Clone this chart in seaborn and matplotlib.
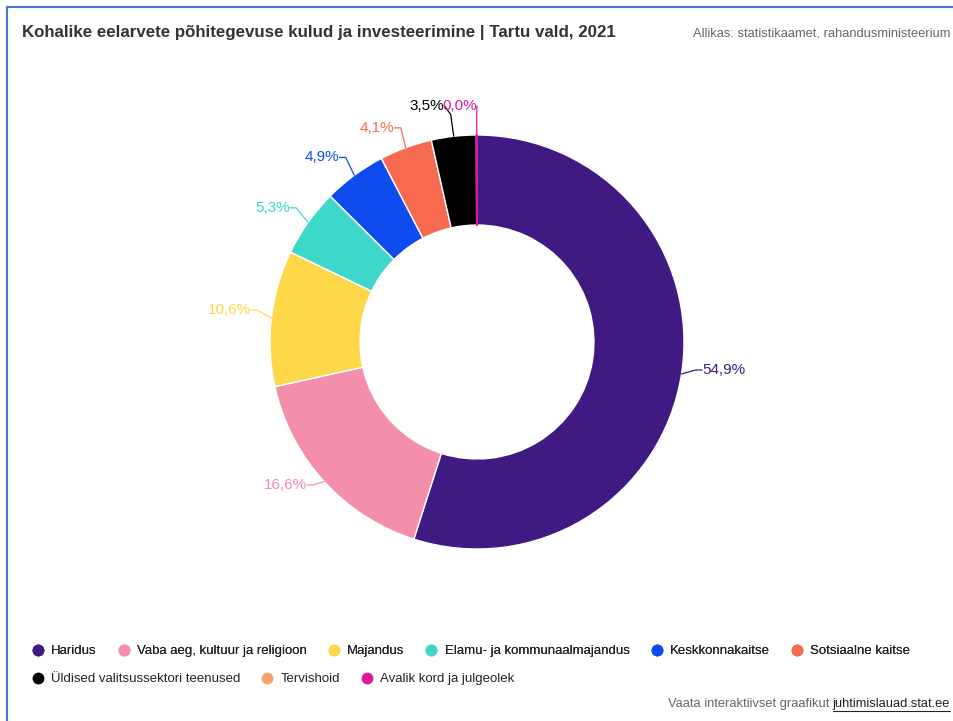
import numpy as np
import matplotlib
matplotlib.use("Agg")
import matplotlib.pyplot as plt
from matplotlib.lines import Line2D
import seaborn as sns

categories = ["Haridus", "Vaba aeg, kultuur ja religioon", "Majandus",
              "Elamu- ja kommunaalmajandus", "Keskkonnakaitse", "Sotsiaalne kaitse",
              "Üldised valitsussektori teenused", "Tervishoid", "Avalik kord ja julgeolek"]
values = [54.9, 16.6, 10.6, 5.3, 4.9, 4.1, 3.5, 0.0, 0.04]
labels = ["54,9%", "16,6%", "10,6%", "5,3%", "4,9%", "4,1%", "3,5%", None, "0,0%"]
colors = ["#3f1a82", "#f48fab", "#ffd84a", "#3dd8c9", "#0f4cf0", "#f86a50",
          "#000000", "#f3a36a", "#e0169e"]
label_colors = ["#3f1a82", "#f48fab", "#ffd84a", "#3dd8c9", "#0f4cf0", "#f86a50",
                "#000000", "#f3a36a", "#e0169e"]
row1 = categories[:6]
row2 = categories[6:]

sns.set_theme(style="white")
plt.rcParams['font.family'] = ['Liberation Sans', 'DejaVu Sans']

W, H = 954, 721
fig = plt.figure(figsize=(W / 100, H / 100), dpi=100)
fig.patch.set_facecolor("white")

# pie axes: center (477, 342) px, radius 207 px
R = 1.6
pxr = 207
cx, cy = 477, H - 342
size = 2 * R * pxr
ax = fig.add_axes([(cx - size / 2) / W, (cy - size / 2) / H, size / W, size / H])

wedges, _ = ax.pie(values, colors=colors, startangle=90, counterclock=False,
                   radius=1.0, wedgeprops=dict(width=0.435, edgecolor="white", linewidth=1))
wedges[-1].set_edgecolor(colors[-1])
wedges[-1].set_linewidth(1.2)
ax.set_xlim(-R, R)
ax.set_ylim(-R, R)
ax.set_aspect("equal")
ax.axis("off")

for i, (w, lab, col) in enumerate(zip(wedges, labels, label_colors)):
    if lab is None:
        continue
    ang = np.deg2rad((w.theta1 + w.theta2) / 2)
    c, s = np.cos(ang), np.sin(ang)
    p0 = (c * 1.0, s * 1.0)
    p1 = (c * 1.07, s * 1.07 + 0.03)
    right = c < 0.05
    tx = p1[0] + (-0.03 if right else 0.03)
    ty = p1[1]
    if i == len(values) - 1:
        p1 = (c * 1.0, 1.1)
        tx, ty = 0.0, 1.14
    if i == 6:
        p1 = (c * 1.0 - 0.015, 1.1)
        tx, ty = p1[0] - 0.03, 1.14
    ax.plot([p0[0], p1[0], tx], [p0[1], p1[1], ty], color=col, lw=0.9)
    ax.text(tx, ty, lab, color=col, fontsize=11,
            ha="right" if right else "left", va="center")

# title and source
fig.text(22 / W, 1 - 33 / H, "Kohalike eelarvete põhitegevuse kulud ja investeerimine | Tartu vald, 2021",
         fontsize=12.2, fontweight="bold", color="#333333", ha="left", va="center")
fig.text(950 / W, 1 - 33 / H, "Allikas: statistikaamet, rahandusministeerium",
         fontsize=9.3, color="#666666", ha="right", va="center")

# legends
def handles(names):
    return [Line2D([], [], marker="o", ls="", markersize=7.5,
                   markerfacecolor=colors[categories.index(n)],
                   markeredgecolor=colors[categories.index(n)]) for n in names]

kw = dict(frameon=False, fontsize=9.5, handletextpad=0.5, columnspacing=1.55,
          handlelength=1.0, borderaxespad=0, loc="center left")
leg1 = fig.legend(handles(row1), row1, ncol=len(row1),
                  bbox_to_anchor=(26 / W, 1 - 651 / H), **kw)
fig.add_artist(leg1)
leg2 = fig.legend(handles(row2), row2, ncol=len(row2),
                  bbox_to_anchor=(26 / W, 1 - 679 / H), **kw)
for lg in (leg1, leg2):
    for t in lg.get_texts():
        t.set_color("#222222")

# footer
link = fig.text(950 / W, 1 - 704 / H, "juhtimislauad.stat.ee", fontsize=9.3, color="#222222",
                ha="right", va="center")
fig.canvas.draw()
bb = link.get_window_extent(fig.canvas.get_renderer())
fig.text((bb.x0 - 3) / W, 1 - 704 / H, "Vaata interaktiivset graafikut", fontsize=9.3,
         color="#666666", ha="right", va="center")
fig.add_artist(Line2D([bb.x0 / W, bb.x1 / W], [(bb.y0 - 1) / H] * 2, color="#222222", lw=0.8))

# border (top and left)
fig.add_artist(Line2D([7 / W, 1], [1 - 7 / H, 1 - 7 / H], color="#4a78d6", lw=1.5))
fig.add_artist(Line2D([7 / W, 7 / W], [0, 1 - 7 / H], color="#4a78d6", lw=1.5))

fig.savefig("out.png", dpi=100, facecolor="white")
